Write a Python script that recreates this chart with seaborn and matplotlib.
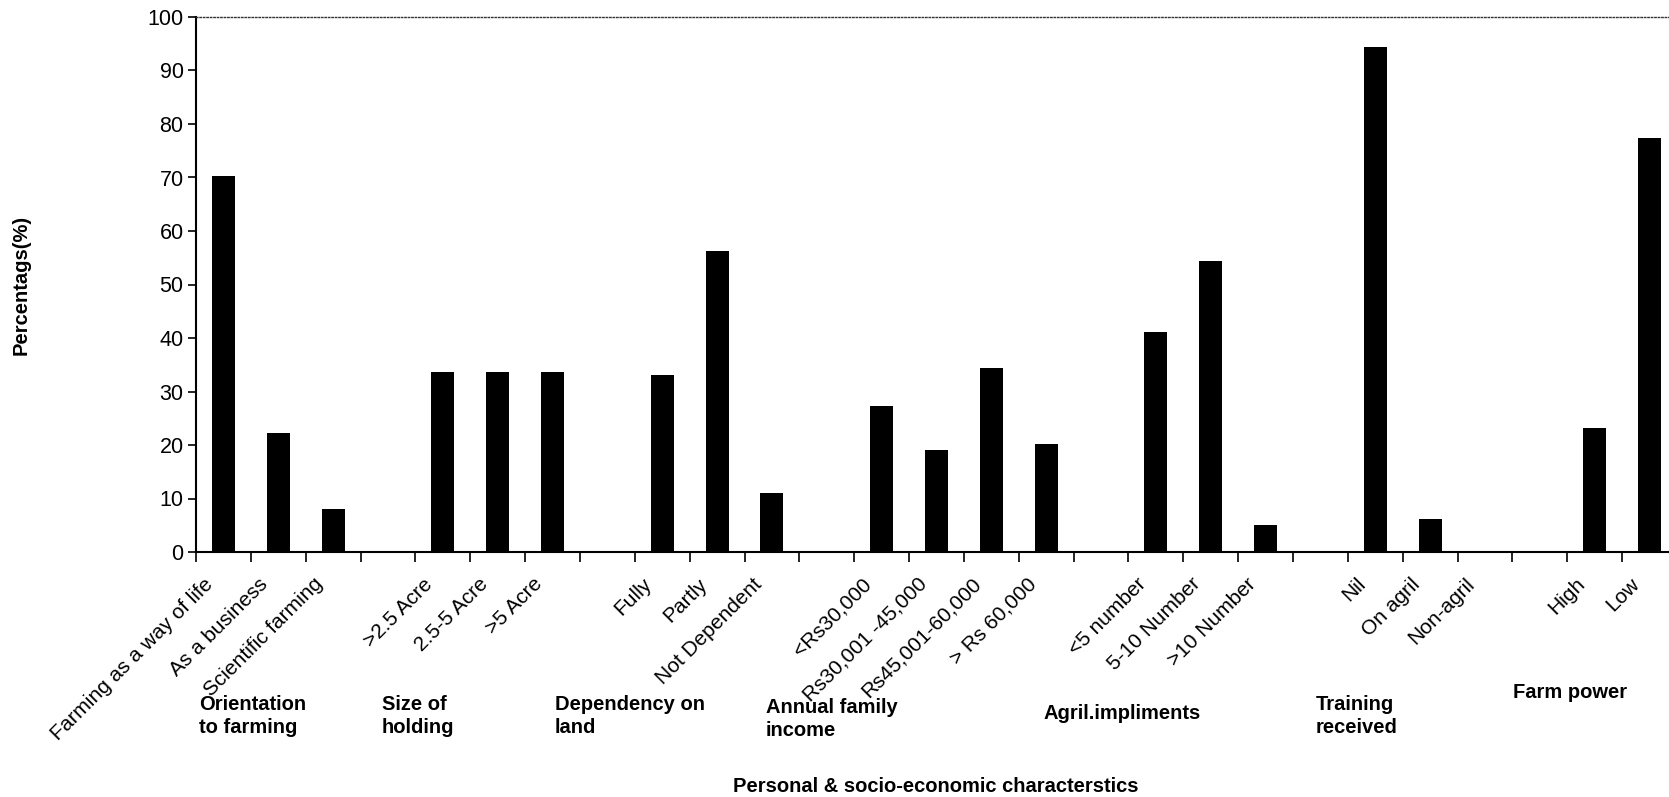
import numpy as np
import pandas as pd
import matplotlib
matplotlib.use("Agg")
import matplotlib.pyplot as plt
import matplotlib.transforms as mtransforms
import seaborn as sns

# ---- data (empty label / None value = spacer slot between groups) ----
categories = ["Farming as a way of life", "As a business", "Scientific farming", "",
              ">2.5 Acre", "2.5-5 Acre", ">5 Acre", "",
              "Fully", "Partly", "Not Dependent", "",
              "<Rs30,000", "Rs30,001 -45,000", "Rs45,001-60,000", "> Rs 60,000", "",
              "<5 number", "5-10 Number", ">10 Number", "",
              "Nil", "On agril", "Non-agril", "",
              "High", "Low"]
values = [70.3, 22.2, 8.1, None,
          33.6, 33.6, 33.6, None,
          33.1, 56.2, 11.1, None,
          27.2, 19.1, 34.3, 20.2, None,
          41.1, 54.3, 5.0, None,
          94.3, 6.2, 0.0, None,
          23.1, 77.4]
group_labels = ["Orientation\nto farming", "Size of\nholding", "Dependency on\nland",
                "Annual family\nincome", "Agril.impliments", "Training\nreceived", "Farm power"]
y_ticks = [0, 10, 20, 30, 40, 50, 60, 70, 80, 90, 100]
x_title = "Personal & socio-economic characterstics"
y_title = "Percentags(%)"

slot_ids = [f"slot{i:02d}" for i in range(len(categories))]
df = pd.DataFrame({"slot": slot_ids, "value": values}).dropna()

sns.set_style("ticks")
plt.rcParams["font.family"] = ["Liberation Sans", "DejaVu Sans"]
plt.rcParams["text.color"] = "black"
plt.rcParams["axes.labelcolor"] = "black"
plt.rcParams["xtick.color"] = "black"
plt.rcParams["ytick.color"] = "black"

W, H = 1669, 797
fig = plt.figure(figsize=(W / 100, H / 100), dpi=100)
ax_left, ax_right, ax_top, ax_bottom = 196, 1677, 17, 552
ax = fig.add_axes([ax_left / W, 1 - ax_bottom / H, (ax_right - ax_left) / W, (ax_bottom - ax_top) / H])

sns.barplot(data=df, x="slot", y="value", order=slot_ids, color="black",
            saturation=1, width=0.42, ax=ax, linewidth=0, errorbar=None)

ax.set_xlim(-0.5, len(categories) - 0.5)
ax.set_ylim(0, 100)
ax.set_yticks(y_ticks)
ax.set_yticklabels([str(v) for v in y_ticks], fontsize=15.5, color="black")
ax.tick_params(axis="y", direction="out", length=6, width=1.2, pad=3, color="black")

# x: labels at category centres, tick marks at boundaries
ax.set_xticks(np.arange(len(categories)))
ax.set_xticklabels(categories, fontsize=15, rotation=45, ha="right",
                   va="center", rotation_mode="anchor", color="black")
ax.tick_params(axis="x", which="major", length=0, pad=21)
ax.set_xticks(np.arange(len(categories) + 1) - 0.5, minor=True)
ax.tick_params(axis="x", which="minor", direction="out", length=7, width=1.2, color="black")
offset = mtransforms.ScaledTranslation(-13 / 100, 0, fig.dpi_scale_trans)
for lab in ax.xaxis.get_majorticklabels():
    lab.set_transform(lab.get_transform() + offset)

ax.set_xlabel("")
ax.set_ylabel("")

for s in ["left", "bottom"]:
    ax.spines[s].set_color("black")
    ax.spines[s].set_linewidth(1.5)
ax.spines["top"].set_linestyle((0, (1, 1.5)))
ax.spines["top"].set_linewidth(1.0)
ax.spines["top"].set_color("#333333")
ax.spines["right"].set_visible(False)

# group captions (pixel positions -> figure fraction)
group_pos = [(199, 695), (382, 695), (555, 695), (766, 698), (1044, 704), (1316, 695), (1513, 683)]
for txt, (px, py) in zip(group_labels, group_pos):
    fig.text(px / W, 1 - py / H, txt, ha="left", va="top", fontsize=14.5,
             fontweight="bold", linespacing=1.25, color="black")

fig.text(936 / W, 1 - 786 / H, x_title, ha="center", va="center",
         fontsize=14.5, fontweight="bold", color="black")
fig.text(21 / W, 1 - 285 / H, y_title, ha="center", va="center", rotation=90,
         fontsize=14.5, fontweight="bold", color="black")

fig.savefig("out.png", dpi=100, facecolor="white")
